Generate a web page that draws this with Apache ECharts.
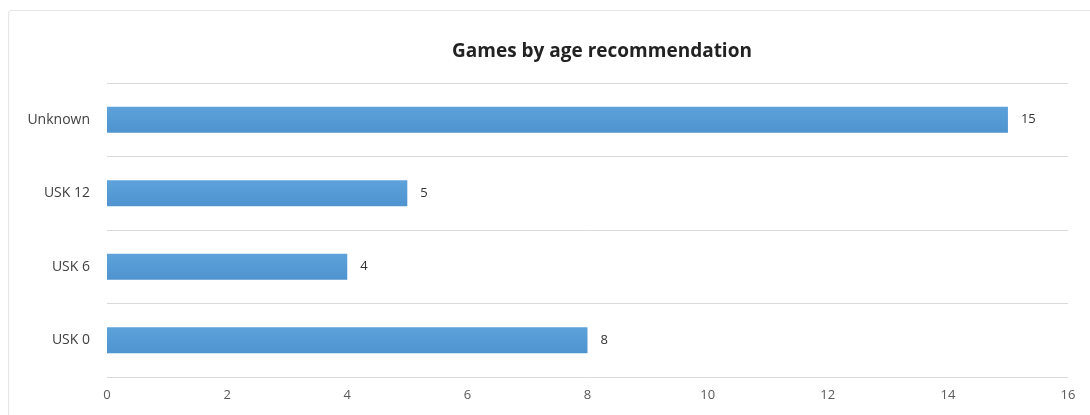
<!DOCTYPE html>
<html>
<head>
<meta charset="utf-8">
<script src="https://cdn.jsdelivr.net/npm/echarts@6/dist/echarts.min.js"></script>
<style>
  html, body { margin: 0; padding: 0; background: #fff; }
  #chart { width: 1090px; height: 415px; }
  .frame { position: absolute; left: 8px; top: 10px; width: 1100px; height: 420px; border: 1px solid #e6e6e6; border-radius: 3px; pointer-events: none; }
</style>
</head>
<body>
<div id="chart"></div>
<div class="frame"></div>
<script>
// Games by age recommendation
const categories = ['USK 0', 'USK 6', 'USK 12', 'Unknown']
const games = [8, 4, 5, 15]
const xMax = 16
const xStep = 2

const chart = echarts.init(document.getElementById('chart'))
const option = {
  animation: false,
  title: {
    text: 'Games by age recommendation',
    left: 597,
    top: 37,
    textAlign: 'center',
    textStyle: {
      fontFamily: 'Open Sans',
      fontSize: 19,
      fontWeight: 'bold',
      color: '#222'
    }
  },
  grid: {
    left: 107,
    right: 22,
    top: 83,
    bottom: 38,
    containLabel: false
  },
  xAxis: {
    type: 'value',
    min: 0,
    max: xMax,
    interval: xStep,
    axisLine: { show: false },
    axisTick: { show: false },
    splitLine: { show: false },
    axisLabel: {
      margin: 12,
      fontFamily: 'Open Sans',
      fontSize: 13,
      color: '#595959'
    }
  },
  yAxis: {
    type: 'category',
    data: categories,
    axisLine: { show: false },
    axisTick: { show: false },
    splitLine: {
      show: true,
      lineStyle: { color: '#d9d9d9', width: 1 }
    },
    axisLabel: {
      margin: 17,
      fontFamily: 'Open Sans',
      fontSize: 14,
      color: '#404040'
    }
  },
  series: [
    {
      type: 'bar',
      data: games,
      barWidth: 26,
      itemStyle: {
        color: new echarts.graphic.LinearGradient(0, 0, 0, 1, [
          { offset: 0, color: '#5ea2db' },
          { offset: 1, color: '#4f93cf' }
        ])
      },
      label: {
        show: true,
        position: 'right',
        distance: 13,
        fontFamily: 'Open Sans',
        fontSize: 13,
        color: '#333'
      }
    }
  ]
}
chart.setOption(option)
</script>
</body>
</html>
